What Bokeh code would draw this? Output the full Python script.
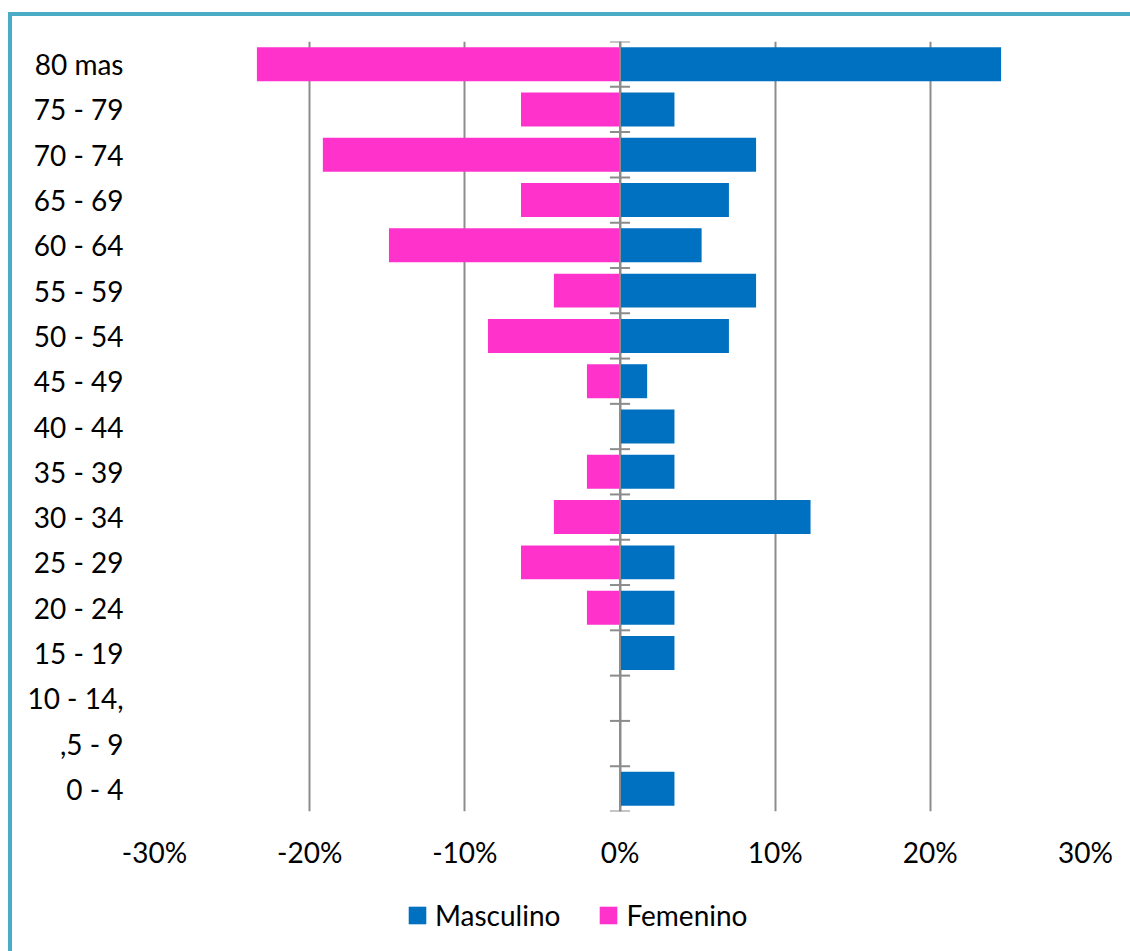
from bokeh.plotting import figure
from bokeh.layouts import column
from bokeh.models import (FixedTicker, PrintfTickFormatter, Legend, LegendItem,
                          FactorRange, Range1d)
from bokeh.embed import file_html
from bokeh.resources import INLINE

# Age groups listed from the youngest (bottom) to the oldest (top)
ages = ["0 - 4", ",5 - 9", "10 - 14,", "15 - 19", "20 - 24", "25 - 29",
        "30 - 34", "35 - 39", "40 - 44", "45 - 49", "50 - 54", "55 - 59",
        "60 - 64", "65 - 69", "70 - 74", "75 - 79", "80 mas"]

# Share of each sex per age group, in percent
masculino = [3.51, 0.0, 0.0, 3.51, 3.51, 3.51, 12.28, 3.51, 3.51, 1.75,
             7.02, 8.77, 5.26, 7.02, 8.77, 3.51, 24.56]
femenino = [0.0, 0.0, 0.0, 0.0, 2.13, 6.38, 4.26, 2.13, 0.0, 2.13,
            8.51, 4.26, 14.89, 6.38, 19.15, 6.38, 23.40]

x_ticks = [-30, -20, -10, 0, 10, 20, 30]

FONT = "Lato"
BLUE = "#0070C0"
PINK = "#FF33CC"
GRID = "#8C8C8C"

W = 1118
H_MAIN, H_LEG = 855, 80

p = figure(width=W, height=H_MAIN, output_backend="svg", toolbar_location=None,
           x_range=(-30, 30), y_range=FactorRange(factors=ages, range_padding=0),
           min_border_left=142, min_border_right=45, min_border_top=25,
           min_border_bottom=60)
p.outline_line_color = None
p.background_fill_color = "white"
p.border_fill_color = "white"

# Vertical gridlines only
p.ygrid.grid_line_color = None
p.xgrid.grid_line_color = GRID
p.xgrid.grid_line_width = 2

p.hbar(y=ages, right=masculino, left=0, height=0.75,
       fill_color=BLUE, line_color=None)
p.hbar(y=ages, right=[-v for v in femenino], left=0, height=0.75,
       fill_color=PINK, line_color=None)

# Central category axis with tick marks between age groups
n = len(ages)
p.segment(x0=[0], x1=[0], y0=[0], y1=[n], line_color=GRID, line_width=2)
p.segment(x0=[-0.65] * (n + 1), x1=[0.65] * (n + 1),
          y0=list(range(n + 1)), y1=list(range(n + 1)),
          line_color=GRID, line_width=2)

# X axis: percentages
p.xaxis.ticker = FixedTicker(ticks=x_ticks)
p.xaxis.formatter = PrintfTickFormatter(format="%d%%")
p.xaxis.axis_line_color = None
p.xaxis.major_tick_line_color = None
p.xaxis.minor_tick_line_color = None
p.xaxis.major_label_text_font = FONT
p.xaxis.major_label_text_font_size = "28px"
p.xaxis.major_label_text_color = "black"
p.xaxis.major_label_standoff = 17

# Y axis: age groups
p.yaxis.axis_line_color = None
p.yaxis.major_tick_line_color = None
p.yaxis.minor_tick_line_color = None
p.yaxis.major_label_text_font = FONT
p.yaxis.major_label_text_font_size = "28px"
p.yaxis.major_label_text_color = "black"
p.yaxis.major_label_standoff = 25

# Legend strip under the chart (its frame lines up with the chart frame)
lf = figure(width=W, height=H_LEG, output_backend="svg", toolbar_location=None,
            x_range=Range1d(0, 1), y_range=Range1d(0, 1),
            x_axis_type=None, y_axis_type=None,
            min_border_left=142, min_border_right=45, min_border_top=0,
            min_border_bottom=0)
lf.outline_line_color = None
lf.grid.visible = False
# legend keys, placed outside the visible range of the strip
key_m = lf.hbar(y=[-5], right=[1], left=0, height=0.1,
                fill_color=BLUE, line_color=None)
key_f = lf.hbar(y=[-5], right=[1], left=0, height=0.1,
                fill_color=PINK, line_color=None)

legend = Legend(items=[LegendItem(label="Masculino", renderers=[key_m]),
                       LegendItem(label="Femenino", renderers=[key_f])],
                orientation="horizontal", location=(252, 19),
                glyph_width=22, glyph_height=22, label_standoff=7,
                spacing=37, padding=0, margin=0,
                label_text_font=FONT, label_text_font_size="28px",
                label_text_color="black",
                border_line_color=None, background_fill_alpha=0)
lf.add_layout(legend, "center")

page = column(p, lf, spacing=0)
page.styles = {"margin-left": "8px", "margin-top": "12px",
               "border-left": "4px solid #4BACC6", "border-top": "4px solid #4BACC6"}

open("out.html", "w").write(file_html(page, INLINE))
